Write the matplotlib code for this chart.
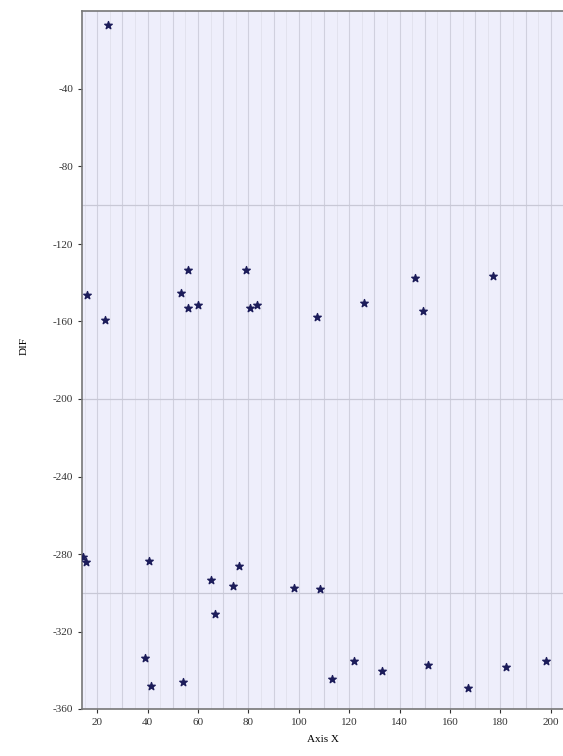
import matplotlib.pyplot as plt
import numpy as np

# points
x_vals = [24.5, 15.9, 23.2, 53.2, 56.2, 56.2, 60.2, 79.2, 80.5, 83.3,
          107.1, 126.0, 146.2, 149.1, 177.1,
          14.3, 15.6, 40.4, 65.2, 66.8, 74.0, 76.4, 98.2, 108.4,
          39.0, 41.3, 54.0, 113.3, 122.0, 132.9, 151.1, 167.0, 182.2, 198.0]
y_vals = [-7.0, -146.4, -159.3, -145.2, -133.5, -152.8, -151.5, -133.5, -153.2, -151.5,
          -157.6, -150.5, -137.4, -154.6, -136.4,
          -281.4, -284.0, -283.6, -293.4, -311.1, -296.4, -286.2, -297.8, -298.3,
          -333.8, -348.1, -346.2, -344.3, -335.1, -340.4, -337.3, -349.0, -338.2, -335.1]

x_ticks = [20, 40, 60, 80, 100, 120, 140, 160, 180, 200]
y_ticks = [-40, -80, -120, -160, -200, -240, -280, -320, -360]
y_grid = [-100, -200, -300]
x_grid = list(range(20, 210, 10))

plt.rcParams['font.family'] = ['Liberation Serif', 'DejaVu Serif']
plt.rcParams['axes.unicode_minus'] = False

fig = plt.figure(figsize=(5.63, 7.56), dpi=100)
ax = fig.add_axes([82 / 563, 1 - 709 / 756, 1 - 82 / 563, (709 - 11.5) / 756])
ax.set_facecolor('#eeeefb')

for gx in x_grid:
    ax.axvline(gx, color='#d0d0de', lw=0.8, zorder=0)
for gx in range(15, 210, 10):
    ax.axvline(gx, color='#e0e0ec', lw=0.6, zorder=0)
for gy in y_grid:
    ax.axhline(gy, color='#c8c8d6', lw=0.9, zorder=0)

ax.scatter(x_vals, y_vals, marker='*', s=32, color='#1c1c5a', zorder=3)

ax.set_xlim(14, 204.8)
ax.set_ylim(-360, 0)
ax.set_xticks(x_ticks)
ax.set_yticks(y_ticks)
ax.tick_params(labelsize=8, colors='#333333', length=3, width=0.8)

for side in ['left', 'bottom', 'top']:
    ax.spines[side].set_color('#777777')
    ax.spines[side].set_linewidth(1.2)
ax.spines['right'].set_visible(False)

ax.set_xlabel('Axis X', fontsize=8, labelpad=6)
ax.set_ylabel('DIF', fontsize=8)
ax.yaxis.set_label_coords(-0.11, 0.52)

fig.savefig('out.png', dpi=100)
